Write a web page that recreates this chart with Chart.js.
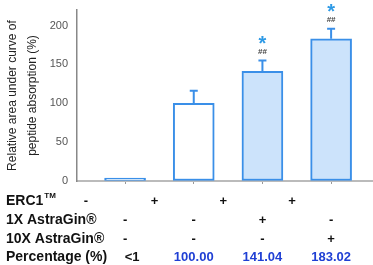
<!DOCTYPE html>
<html>
<head>
<meta charset="utf-8">
<script src="https://cdn.jsdelivr.net/npm/chart.js@4.4.0/dist/chart.umd.min.js"></script>
<style>
  html, body { margin: 0; padding: 0; background: #fff; }
  #wrap { width: 373px; height: 265px; }
</style>
</head>
<body>
<div id="wrap"><canvas id="bar_chart" width="373" height="265"></canvas></div>
<script>
const ctx = document.querySelector('#bar_chart')

// groups along x (1..4)
const groups = [1, 2, 3, 4]
const values = [1, 100, 141.04, 183.02]
const errTop = [null, 116, 155, 196]
const fills = ['#ffffff', '#ffffff', '#cce3fb', '#cce3fb']
const stars = ['', '', '*', '*']
const hashes = ['', '', '##', '##']
const yTicks = [0, 50, 100, 150, 200]

// table under the chart
const rowLabels = ['ERC1', '1X AstraGin®', '10X AstraGin®', 'Percentage (%)']
const rowErc1 = ['-', '+', '+', '+']
const row1x = ['-', '-', '+', '-']
const row10x = ['-', '-', '-', '+']
const rowPct = ['<1', '100.00', '141.04', '183.02']

const blue = '#3a8fe8'

const extras = {
    id: 'extras',
    afterDatasetsDraw(chart) {
        const c = chart.ctx
        const x = chart.scales.x
        const y = chart.scales.y
        c.save()
        // error bars
        c.strokeStyle = blue
        c.lineWidth = 2
        groups.forEach((g, i) => {
            if (errTop[i] == null) return
            const px = x.getPixelForValue(g)
            const top = y.getPixelForValue(errTop[i])
            const base = y.getPixelForValue(values[i])
            c.beginPath()
            c.moveTo(px, base)
            c.lineTo(px, top)
            c.moveTo(px - 4, top)
            c.lineTo(px + 4, top)
            c.stroke()
        })
        // significance marks
        c.textAlign = 'center'
        groups.forEach((g, i) => {
            if (!stars[i]) return
            const px = x.getPixelForValue(g)
            const top = y.getPixelForValue(errTop[i])
            c.fillStyle = '#444'
            c.font = 'bold 8px "Liberation Sans"'
            c.textBaseline = 'middle'
            c.fillText(hashes[i], px, top - 9)
            c.fillStyle = '#2e9ae6'
            c.font = 'bold 20px "Liberation Sans"'
            c.fillText(stars[i], px, top - 16)
        })
        // table
        const rowsY = [201, 220, 239, 257]
        c.textBaseline = 'middle'
        c.fillStyle = '#111'
        c.font = 'bold 14px "Liberation Sans"'
        c.textAlign = 'left'
        rowLabels.forEach((t, r) => {
            c.fillText(t, 6, rowsY[r])
        })
        const w = c.measureText('ERC1').width
        c.font = 'bold 8px "Liberation Sans"'
        c.fillText('TM', 6 + w + 1, rowsY[0] - 5)

        c.font = 'bold 13px "Liberation Sans"'
        c.textAlign = 'center'
        groups.forEach((g, i) => {
            c.fillStyle = '#111'
            c.fillText(rowErc1[i], x.getPixelForValue(g - 0.57), rowsY[0])
            c.fillText(row1x[i], x.getPixelForValue(g), rowsY[1])
            c.fillText(row10x[i], x.getPixelForValue(g), rowsY[2])
            c.fillStyle = i === 0 ? '#111' : '#1f3fd4'
            c.fillText(rowPct[i], x.getPixelForValue(g) + (i === 0 ? 7 : 0), rowsY[3])
        })
        c.restore()
    }
}

new Chart(ctx, {
    type: 'bar',
    data: {
        datasets: [
            {
                data: groups.map((g, i) => ({ x: g, y: values[i] })),
                backgroundColor: fills,
                borderColor: blue,
                borderWidth: 2,
                borderSkipped: false,
                minBarLength: 3,
                barThickness: 41
            }
        ]
    },
    plugins: [extras],
    options: {
        responsive: false,
        animation: false,
        layout: {
            padding: { left: 0, right: 0, top: 10, bottom: 81 }
        },
        plugins: {
            legend: false,
            tooltip: { enabled: false }
        },
        scales: {
            x: {
                type: 'linear',
                offset: false,
                min: 0.3,
                max: 4.61,
                afterBuildTicks: s => { s.ticks = groups.map(v => ({ value: v })) },
                afterFit: s => { s.height = 3; s.paddingLeft = 0; s.paddingRight = 0 },
                ticks: { display: false },
                grid: { offset: false, drawOnChartArea: false, tickLength: 3, color: '#999' },
                border: { color: '#bbb', width: 2 }
            },
            y: {
                min: 0,
                max: 220,
                afterBuildTicks: s => { s.ticks = yTicks.map(v => ({ value: v })) },
                afterFit: s => { s.width = 77; s.paddingTop = 0; s.paddingBottom = 0 },
                ticks: {
                    color: '#555',
                    padding: 9,
                    font: { family: 'Liberation Sans', size: 11 }
                },
                grid: { drawOnChartArea: false, drawTicks: false },
                border: { color: '#888', width: 1.5 },
                title: {
                    display: true,
                    text: ['Relative area under curve of', 'peptide absorption (%)'],
                    color: '#222',
                    font: { family: 'Liberation Sans', size: 12, lineHeight: 1.65 },
                    padding: { top: 3, bottom: 0 }
                }
            }
        }
    }
})
</script>
</body>
</html>
